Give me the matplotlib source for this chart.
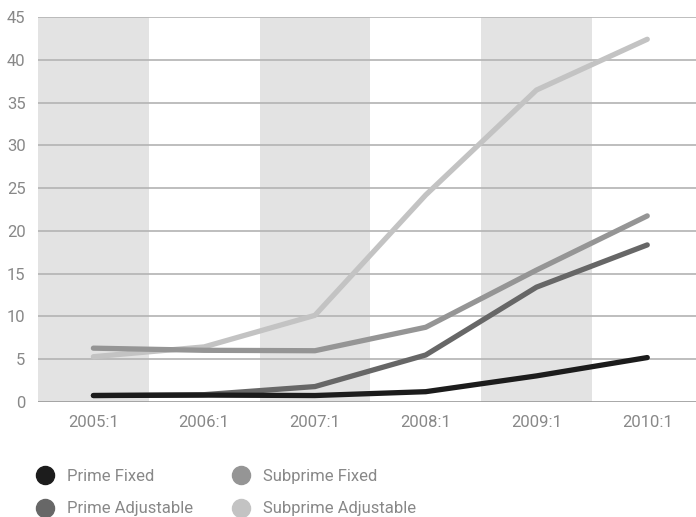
import matplotlib
matplotlib.use("Agg")
import matplotlib.pyplot as plt
from matplotlib.lines import Line2D

plt.rcParams['font.family'] = ['Roboto', 'DejaVu Sans']

# Delinquency rates by quarter
periods = ['2005:1', '2006:1', '2007:1', '2008:1', '2009:1', '2010:1']
prime_fixed = [0.7, 0.75, 0.7, 1.15, 3.0, 5.15]
prime_adjustable = [0.7, 0.8, 1.75, 5.45, 13.4, 18.35]
subprime_fixed = [6.25, 6.0, 5.95, 8.7, 15.4, 21.75]
subprime_adjustable = [5.25, 6.4, 10.1, 24.2, 36.5, 42.45]

series = [
    ('Prime Fixed', prime_fixed, '#1c1c1c'),
    ('Prime Adjustable', prime_adjustable, '#676767'),
    ('Subprime Fixed', subprime_fixed, '#959595'),
    ('Subprime Adjustable', subprime_adjustable, '#c3c3c3'),
]

fig = plt.figure(figsize=(6.96, 5.17), dpi=100)
ax = fig.add_axes([38 / 696, 115.5 / 517, 658 / 696, 384 / 517])

x = list(range(len(periods)))

# alternating shaded bands behind every other period
for i in x[::2]:
    ax.axvspan(i - 0.5, i + 0.5, color='#e3e3e3', zorder=0, lw=0)

for y in range(0, 50, 5):
    ax.axhline(y, color='#b3b3b3' if y else '#999999', lw=1.2, zorder=1)

for name, vals, col in reversed(series):
    ax.plot(x, vals, color=col, lw=3.8, solid_capstyle='round', zorder=3)

ax.set_xlim(-0.5, 5.44)
ax.set_ylim(0, 45)
ax.set_xticks(x)
ax.set_xticklabels(periods)
ax.set_yticks(range(0, 50, 5))
ax.tick_params(length=0, labelsize=12, labelcolor='#888888')
ax.tick_params(axis='y', pad=9)
ax.tick_params(axis='x', pad=10)
for s in ax.spines.values():
    s.set_visible(False)

handles = [Line2D([], [], marker='o', ls='none', markersize=13, color=col, label=name)
           for name, vals, col in series]
leg = fig.legend(handles=handles, ncol=2, loc='upper left', bbox_to_anchor=(35 / 696, 1 - 469 / 517),
                 frameon=False, fontsize=12, handletextpad=0.7, columnspacing=2.3,
                 labelspacing=1.05, handlelength=1.2, borderaxespad=0, borderpad=0)
for t in leg.get_texts():
    t.set_color('#888888')

fig.savefig('out.png', dpi=100)
